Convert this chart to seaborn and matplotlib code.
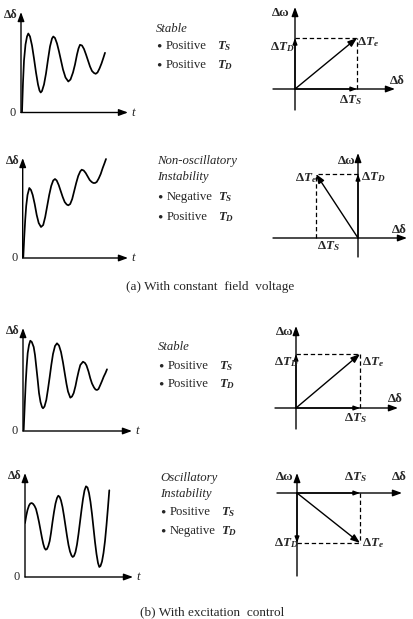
import matplotlib
matplotlib.use('Agg')
from matplotlib import pyplot as plt
import seaborn as sb

sb.set_style('white')
plt.rcParams['font.family'] = ['Liberation Serif', 'DejaVu Serif']
plt.rcParams['mathtext.fontset'] = 'custom'
plt.rcParams['mathtext.rm'] = 'Liberation Serif:bold'
plt.rcParams['mathtext.it'] = 'Liberation Serif:italic:bold'
plt.rcParams['mathtext.bf'] = 'Liberation Serif:bold'

# rotor angle responses (t, delta)
t_a1 = [1, 2, 3, 4.5, 6, 7.3, 9, 11, 13, 15, 17, 18.5, 19.7, 21, 23, 25, 27, 29, 31, 32.3,
        34, 36, 38, 40, 42, 44.5, 47.3, 49.5, 52, 54, 56, 57.5, 59, 61, 63, 65, 67, 69,
        71, 73, 74.7, 76.5, 78.5, 80.5, 82.5, 84]
d_a1 = [0, 30, 52, 68, 76, 79, 76, 67, 54, 40, 28, 22, 20, 21.5, 28, 39, 53, 66, 74, 76,
        74.5, 69, 61, 52, 43, 35, 31, 33, 40, 48, 58, 64, 67.7, 67, 63.5, 58, 52, 46,
        41.5, 39.5, 38.7, 40, 44, 49, 55, 59.7]

t_a2 = [0.6, 1.5, 2.5, 3.5, 4.8, 6.6, 8.3, 10, 12, 14, 16, 18.3, 20.5, 22.5, 24.5, 26.5,
        28.5, 30.5, 32.3, 34, 36, 38, 40, 42, 44, 45.6, 47.5, 49.5, 51.5, 53.5, 55.5,
        57.5, 59, 61, 63, 65, 67, 69, 70.7, 72.3, 74, 76, 78, 80, 81.7, 83.3]
d_a2 = [1, 20, 38, 52, 63, 70, 68, 63, 54, 43, 35, 31, 33, 41, 52, 63, 72, 77.5, 79,
        77.5, 73, 67, 61, 56, 53.5, 52.7, 54, 59, 67, 75, 82, 86.5, 88.3, 87.5, 85,
        81.5, 78, 76, 75, 75, 76, 79.5, 84, 90, 94.5, 99]

t_b1 = [0.7, 1.7, 2.7, 3.7, 4.7, 6, 7.3, 8.8, 10.7, 12, 13.3, 14.7, 16, 17.5, 19, 20,
        21.5, 23.3, 25, 26.7, 28.3, 30, 32, 34, 36, 38, 40, 41.7, 43.5, 45, 47.3, 49,
        50.7, 52.5, 54, 55.7, 57.3, 60, 62, 63.5, 65.5, 67.3, 69, 71, 72.5, 74, 75.5,
        77.3, 79, 80.7, 82.5, 84]
d_b1 = [1, 25, 48, 65, 78, 86, 90.3, 89, 84, 76, 64, 51, 38, 29, 24, 22.7, 24.5, 31,
        42, 54, 66, 77, 85, 87.7, 85.5, 79, 68.5, 58, 47, 39.5, 33.3, 34.5, 38, 45,
        52.5, 60, 66, 69.3, 68, 65.5, 59.5, 52.7, 47.5, 43.5, 41.5, 41, 42, 46, 50,
        54.3, 58, 61.7]

t_b2 = [0, 1.2, 2.5, 4, 5.3, 6.7, 8.2, 9.6, 11, 12.5, 14, 15.5, 17, 18.3, 19.5, 20.7,
        22, 23.3, 24.7, 26, 27.5, 29, 30.5, 32, 33.3, 34.7, 36, 37.5, 39, 40.5, 42,
        43.5, 45, 46.5, 47.7, 49, 50.5, 52, 53.5, 55, 56.5, 58, 59.5, 61, 62.5, 64,
        65.5, 67, 68.5, 70, 71.5, 73, 74.3, 75.5, 77, 78.5, 80, 81.5, 83, 84.3]
d_b2 = [54, 61, 67, 71.5, 73.5, 74, 73, 71, 68, 62, 55, 47, 39, 33, 29, 27.3, 28, 31,
        36, 44, 55, 65, 73.5, 79, 81.3, 80, 76.5, 70, 61, 51, 41, 32, 25.5, 21.5, 20,
        21, 25, 32.5, 43, 55, 67, 78, 86.5, 90.7, 89.5, 84, 75, 63, 49, 35, 23, 14, 10,
        11, 15.5, 24, 36, 52, 70, 86.7]

# torque components (delta T_S, delta T_D) of each phasor diagram
dT_s = [62, -42, 64, 63]
dT_d = [51, 64, 54, -50]

# case descriptions
titles = ['Stable', 'Non-oscillatory\nInstability', 'Stable', 'Oscillatory\nInstability']
line1 = ['Positive', 'Negative', 'Positive', 'Positive']
line2 = ['Positive', 'Positive', 'Positive', 'Negative']
captions = ['(a) With constant  field  voltage', '(b) With excitation  control']

W, H = 413, 619
fig = plt.figure(figsize=(W / 100, H / 100), dpi=100)


def box(x0, y0, x1, y1):
    return [x0 / W, 1 - y1 / H, (x1 - x0) / W, (y1 - y0) / H]


def ftext(x, y, s, **kw):
    kw.setdefault('ha', 'center')
    kw.setdefault('va', 'center')
    kw.setdefault('fontsize', 9.2)
    fig.text(x / W, 1 - y / H, s, **kw)


def arrow(ax, p0, p1, ms=9, lw=1.0):
    ax.annotate('', xy=p1, xytext=p0, annotation_clip=False,
                arrowprops=dict(arrowstyle='-|>,head_length=0.6,head_width=0.22',
                                color='k', lw=lw, mutation_scale=ms,
                                shrinkA=0, shrinkB=0))


def response(t, d, ox, oy, xe, yt):
    ax = fig.add_axes(box(ox, yt, xe, oy))
    ax.set_xlim(0, xe - ox)
    ax.set_ylim(0, oy - yt)
    ax.set_axis_off()
    arrow(ax, (0, 0), (xe - ox, 0))
    arrow(ax, (0, 0), (0, oy - yt))
    sb.lineplot(x=t, y=d, sort=False, ax=ax, color='k', lw=1.25, estimator=None)
    ftext(ox - 10, yt + 3, 'Δδ', fontweight='bold', fontsize=8.6)
    ftext(ox - 8, oy, '0', fontsize=9)
    ftext(xe + 5.5, oy, 't', style='italic', fontsize=9.4)


def phasor(ts, td, ox, oy, x0, x1, y0, y1, s_head=True):
    ax = fig.add_axes(box(x0, y0, x1, y1))
    ax.set_xlim(x0 - ox, x1 - ox)
    ax.set_ylim(oy - y1, oy - y0)
    ax.set_axis_off()
    arrow(ax, (x0 - ox, 0), (x1 - ox, 0))
    arrow(ax, (0, oy - y1), (0, oy - y0))
    ax.plot([0, ts], [td, td], color='k', lw=0.9, ls=(0, (3.5, 2.2)))
    ax.plot([ts, ts], [0, td], color='k', lw=0.9, ls=(0, (3.5, 2.2)))
    arrow(ax, (0, 0), (ts, td), ms=9, lw=1.0)
    if s_head:
        arrow(ax, (0, 0), (ts, 0), ms=6)
    arrow(ax, (0, 0), (0, td), ms=6)


# responses
response(t_a1, d_a1, 21, 112.5, 128, 12)
response(t_a2, d_a2, 22.7, 258, 128, 158)
response(t_b1, d_b1, 23, 431, 132, 328)
response(t_b2, d_b2, 25, 577, 133, 473)

# phasor diagrams
phasor(dT_s[0], dT_d[0], 295, 89, 273, 395, 7, 110)
phasor(dT_s[1], dT_d[1], 358, 238, 273, 407, 153, 257, s_head=False)
phasor(dT_s[2], dT_d[2], 296, 408, 275, 398, 326, 429)
phasor(dT_s[3], dT_d[3], 297, 493, 277, 402, 473, 576)

# phasor labels
lab = dict(fontsize=9.4)
ftext(281, 13, 'Δω', fontweight='bold', **lab)
ftext(282, 47, r'$\Delta T_D$', **lab)
ftext(368, 42, r'$\Delta T_e$', **lab)
ftext(397, 81, 'Δδ', fontweight='bold', **lab)
ftext(350, 100, r'$\Delta T_S$', **lab)

ftext(347, 161, 'Δω', fontweight='bold', **lab)
ftext(373, 177, r'$\Delta T_D$', **lab)
ftext(306, 178, r'$\Delta T_e$', **lab)
ftext(399, 230, 'Δδ', fontweight='bold', **lab)
ftext(328, 246, r'$\Delta T_S$', **lab)

ftext(285, 332, 'Δω', fontweight='bold', **lab)
ftext(286, 362, r'$\Delta T_D$', **lab)
ftext(373, 362, r'$\Delta T_e$', **lab)
ftext(395, 399, 'Δδ', fontweight='bold', **lab)
ftext(355, 418, r'$\Delta T_S$', **lab)

ftext(285, 477, 'Δω', fontweight='bold', **lab)
ftext(355, 477, r'$\Delta T_S$', **lab)
ftext(399, 477, 'Δδ', fontweight='bold', **lab)
ftext(286, 543, r'$\Delta T_D$', **lab)
ftext(373, 543, r'$\Delta T_e$', **lab)

# case descriptions
desc = [(156, 29, 46, 65), (157, 169, 197, 217), (158, 347, 366, 384), (160, 486, 512, 531)]
for (x, yt, y1, y2), ttl, a, b in zip(desc, titles, line1, line2):
    ftext(x, yt, ttl, ha='left', style='italic', linespacing=1.35)
    for y, word, sym in [(y1, a, r'$T_S$'), (y2, b, r'$T_D$')]:
        ftext(x + 3, y + 1, '•', fontsize=11)
        ftext(x + 10, y, word, ha='left')
        ftext(x + 61, y, sym, ha='left')

ftext(210, 287, captions[0], fontsize=9.5)
ftext(212, 612, captions[1], fontsize=9.5)

plt.savefig('out.png', dpi=100)
